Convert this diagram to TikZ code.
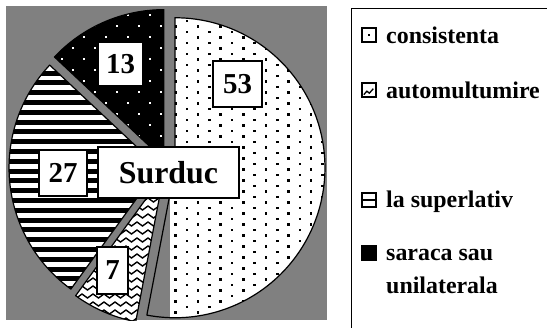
\documentclass[tikz,border=0pt]{standalone}
\usepackage{fontspec}
\setmainfont{Liberation Serif}
\usetikzlibrary{calc}
\definecolor{panelgray}{HTML}{808080}
% one exploded wedge of the pie: vertex, start angle, end angle
\newcommand{\wedgepath}[3]{(#1) -- ++(#2:150) arc[start angle=#2,end angle=#3,radius=150] -- cycle}
\newcommand{\numbox}[5]{\node[numlab,minimum width=#4bp,minimum height=#5bp] (#1) at (#2) {#3};}
\newcommand{\keytext}[3]{\node[keylab] (#1) at (#2) {#3};}
\tikzset{
  edge/.style={line width=1.2bp,line join=round},
  numlab/.style={draw,fill=white,line width=1.2bp,inner sep=0pt,font=\fontsize{29}{30}\selectfont\bfseries},
  keylab/.style={anchor=base west,inner sep=0pt,align=left,font=\fontsize{24}{33}\selectfont\bfseries},
  keymark/.style={draw,line width=1.3bp,minimum size=14bp,inner sep=0pt}
}
\begin{document}
\begin{tikzpicture}[x=1bp,y=-1bp]
        \useasboundingbox (0,0) rectangle (547,327);
        % chart area
        \fill[panelgray] (6,6) rectangle (327,320);
        \coordinate (c) at (167,167);
        \coordinate (v53) at ($(c)+(5.4:8)$);
        \coordinate (v7) at ($(c)+(113.4:8)$);
        \coordinate (v27) at ($(c)+(174.6:8)$);
        \coordinate (v13) at ($(c)+(246.6:8)$);
        \begin{scope}
        \clip (6,6) rectangle (327,320);
        % wedge 53
        \begin{scope}
            \clip \wedgepath{v53}{-90}{100.8};
            \fill[white] (170,10) rectangle (330,330);
            \foreach \y in {15.5,26.5,...,330} \foreach \x in {175.5,198.1,...,330} \fill (\x-1.3,\y-1.3) rectangle ++(2.6,2.6);
            \foreach \y in {21,32,...,330} \foreach \x in {186.8,209.4,...,330} \fill (\x-1.3,\y-1.3) rectangle ++(2.6,2.6);
        \end{scope}
        \draw[edge] \wedgepath{v53}{-90}{100.8};
        % wedge 7
        \begin{scope}
            \clip \wedgepath{v7}{100.8}{126};
            \fill[white] (60,160) rectangle (180,330);
            \foreach \y in {166,174,...,330} \draw[line width=1.4bp] (60,\y) \foreach \x in {60,71,...,180} { -- (\x+5.5,\y+4) -- (\x+11,\y)};
        \end{scope}
        \draw[edge] \wedgepath{v7}{100.8}{126};
        % wedge 27
        \begin{scope}
            \clip \wedgepath{v27}{126}{223.2};
            \fill[white] (5,50) rectangle (170,300);
            \foreach \y in {51,60.8,...,300} \fill (5,\y) rectangle (170,\y+4.9);
        \end{scope}
        \draw[edge] \wedgepath{v27}{126}{223.2};
        % wedge 13
        \begin{scope}
            \clip \wedgepath{v13}{223.2}{270};
            \fill[black] (40,5) rectangle (170,165);
            \foreach \y in {15,37,...,170} \foreach \x in {62,84,...,170} \fill[white] (\x-1,\y-1) rectangle ++(2,2);
            \foreach \y in {26,48,...,170} \foreach \x in {73,95,...,170} \fill[white] (\x-1,\y-1) rectangle ++(2,2);
        \end{scope}
        \draw[edge] \wedgepath{v13}{223.2}{270};
        \end{scope}
        % values
        \numbox{n53}{237.5,84}{53}{49}{46}
        \numbox{n13}{120.5,64}{13}{45}{44}
        \numbox{n27}{63,173}{27}{48}{46}
        \numbox{n7}{112.5,270.5}{7}{31}{47}
        \node[numlab,minimum width=141bp,minimum height=51bp,font=\fontsize{32}{34}\selectfont\bfseries] (title) at (168.5,172.5) {Surduc};
        % legend
        \draw[line width=1bp,fill=white] (351,8) rectangle (550,330);
        \node[keymark,fill=white] (k53) at (369,35) {};
        \fill (k53.center) ++(-1.2,-1.2) rectangle ++(2.4,2.4);
        \node[keymark,fill=white] (k7) at (369,90) {};
        \draw[line width=1.3bp] (k7.south west) ++(2.5,-3) -- ++(3,-3.5) -- ++(2.5,2) -- ++(4,-4.5);
        \node[keymark,fill=white] (k27) at (369,200) {};
        \draw[line width=2bp] (k27.west) -- (k27.east);
        \node[keymark,fill=black] (k13) at (369,253) {};
        \keytext{t53}{386,43}{consistenta}
        \keytext{t7}{386,98}{automultumire}
        \keytext{t27}{386,207}{la superlativ}
        \keytext{t13}{386,293}{saraca sau\\unilaterala}
\end{tikzpicture}
\end{document}
